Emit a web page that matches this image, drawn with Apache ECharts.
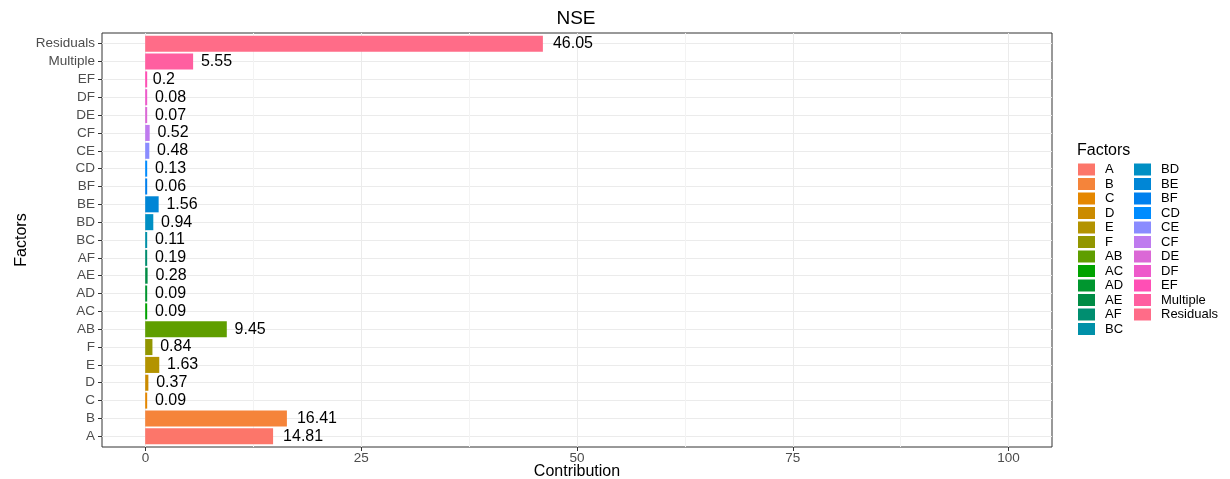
<!DOCTYPE html>
<html>
<head>
<meta charset="utf-8">
<script src="https://cdn.jsdelivr.net/npm/echarts@6/dist/echarts.min.js"></script>
<style>
  html, body { margin: 0; padding: 0; background: #ffffff; }
  #chart { width: 1230px; height: 479px; }
</style>
</head>
<body>
<div id="chart"></div>
<script>
// Factor names, bottom to top on the category axis
const factors = ['A', 'B', 'C', 'D', 'E', 'F', 'AB', 'AC', 'AD', 'AE', 'AF', 'BC',
  'BD', 'BE', 'BF', 'CD', 'CE', 'CF', 'DE', 'DF', 'EF', 'Multiple', 'Residuals'];

// Percentage contribution of each factor to NSE
const contributions = [14.81, 16.41, 0.09, 0.37, 1.63, 0.84, 9.45, 0.09, 0.09, 0.28, 0.19, 0.11,
  0.94, 1.56, 0.06, 0.13, 0.48, 0.52, 0.07, 0.08, 0.2, 5.55, 46.05];

// Fill colour for each factor (hue wheel)
const factorColors = ['#FC766A', '#F5843A', '#E58700', '#CB8B00', '#B39300', '#929600',
  '#5F9E00', '#00A300', '#00962F', '#008C45', '#008E70', '#0090A8',
  '#008FC4', '#0086D6', '#0080EE', '#008CFF', '#8A8CFF', '#BF7BEF',
  '#DB68D6', '#EE5ACB', '#FF4FB5', '#FF5FA0', '#FF6C88'];

// Contribution axis ticks
const contributionMin = 0;
const contributionMax = 100;
const contributionStep = 25;

const FONT = '"Liberation Sans", Arial, Helvetica, sans-serif';
const LABEL_SIZE = 16;

// label offset grows with label width (text placed a quarter of its width past the bar end)
function labelOffset(v) {
  const s = String(v);
  const digits = s.replace('.', '').length;
  const width = (digits * 0.556 + (s.indexOf('.') >= 0 ? 0.278 : 0)) * LABEL_SIZE;
  return 0.25 * width;
}

const series = factors.map((name, i) => ({
  type: 'bar',
  name: name,
  xAxisIndex: 2,
  yAxisIndex: 2,
  stack: 'factors',
  barWidth: '90%',
  barMinHeight: 2,
  itemStyle: { color: factorColors[i] },
  label: {
    show: true,
    position: 'right',
    color: '#000000',
    fontFamily: FONT,
    fontSize: LABEL_SIZE,
    formatter: p => String(p.value)
  },
  emphasis: { disabled: true },
  data: factors.map((_, j) => j === i
    ? { value: contributions[i], label: { distance: labelOffset(contributions[i]) } }
    : '-')
}));

const legendBase = {
  orient: 'vertical',
  top: 163,
  padding: 0,
  itemWidth: 17,
  itemHeight: 12,
  itemGap: 1.5,
  icon: 'rect',
  selectedMode: false,
  textStyle: {
    fontFamily: FONT,
    fontSize: 13,
    color: '#000000',
    lineHeight: 12,
    padding: [0, 0, 0, 5]
  }
};

const option = {
  animation: false,
  backgroundColor: '#ffffff',
  title: [
    {
      text: 'NSE',
      left: 576,
      top: 9,
      padding: 0,
      textAlign: 'center',
      textStyle: { fontFamily: FONT, fontSize: 19, fontWeight: 'normal', color: '#000000' }
    },
    {
      text: 'Factors',
      left: 1077,
      top: 143,
      padding: 0,
      textStyle: { fontFamily: FONT, fontSize: 16, fontWeight: 'normal', color: '#000000' }
    }
  ],
  legend: [
    Object.assign({}, legendBase, { left: 1078, data: factors.slice(0, 12) }),
    Object.assign({}, legendBase, { left: 1134, data: factors.slice(12) })
  ],
  grid: [
    // panel frame
    { left: 102, right: 178, top: 33, bottom: 32, show: true, borderColor: '#333333', borderWidth: 1, backgroundColor: 'transparent', containLabel: false, outerBoundsMode: 'none' },
    // contribution ruler (0..100)
    { left: 145.5, right: 221.5, top: 33, bottom: 32, containLabel: false, outerBoundsMode: 'none' },
    // factor bands (with discrete padding)
    { left: 102, right: 178, top: 34.8, bottom: 33.8, containLabel: false, outerBoundsMode: 'none' }
  ],
  xAxis: [
    { gridIndex: 0, type: 'value', min: -5, max: 105, show: false },
    {
      gridIndex: 1,
      type: 'value',
      position: 'bottom',
      min: contributionMin,
      max: contributionMax,
      interval: contributionStep,
      axisLine: { show: false, onZero: false },
      axisTick: { show: true, length: 4, lineStyle: { color: '#333333', width: 1 } },
      axisLabel: { color: '#4D4D4D', fontFamily: FONT, fontSize: 13.5, margin: 4 },
      splitLine: { show: true, lineStyle: { color: '#EBEBEB', width: 1 } },
      minorTick: { show: false, splitNumber: 2 },
      minorSplitLine: { show: true, lineStyle: { color: '#F3F3F3', width: 1 } },
      name: 'Contribution',
      nameLocation: 'middle',
      nameGap: 17,
      nameMoveOverlap: false,
      nameTextStyle: { fontFamily: FONT, fontSize: 16, color: '#000000', verticalAlign: 'top' }
    },
    { gridIndex: 2, type: 'value', min: -5, max: 105, show: false }
  ],
  yAxis: [
    { gridIndex: 0, type: 'value', show: false },
    { gridIndex: 1, type: 'value', min: 0, max: 1, show: false },
    {
      gridIndex: 2,
      type: 'category',
      position: 'left',
      data: factors,
      axisLine: { show: false, onZero: false },
      axisTick: { show: true, alignWithLabel: true, interval: 0, length: 4, lineStyle: { color: '#333333', width: 1 } },
      axisLabel: { interval: 0, color: '#4D4D4D', fontFamily: FONT, fontSize: 13.5, margin: 7 },
      splitLine: { show: true, alignWithLabel: true, interval: 0, lineStyle: { color: '#EBEBEB', width: 1 } },
      name: 'Factors',
      nameLocation: 'middle',
      nameGap: 72,
      nameRotate: 90,
      nameMoveOverlap: false,
      nameTextStyle: { fontFamily: FONT, fontSize: 16, color: '#000000' }
    }
  ],
  series: series
};

const chart = echarts.init(document.getElementById('chart'), null, { renderer: 'canvas' });
chart.setOption(option);
</script>
</body>
</html>
